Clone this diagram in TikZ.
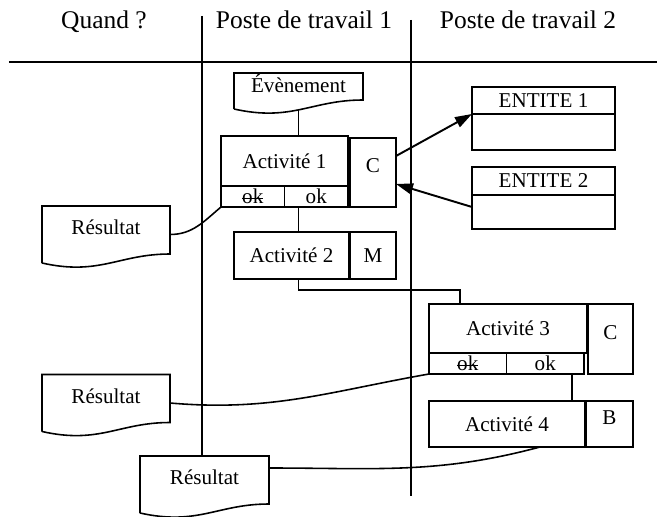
\documentclass[tikz,border=0pt]{standalone}
\usepackage{fontspec}
\setmainfont{Liberation Serif}
\usetikzlibrary{arrows.meta,positioning,calc}

\newlength{\barrelen}
\newcommand{\barre}[1]{\settowidth{\barrelen}{#1}\rlap{#1}\rule[0.55ex]{\barrelen}{0.5pt}}

\newcommand{\docoutline}[1]{%
  \draw[conn] (#1.south west) -- (#1.north west) -- (#1.north east)
    -- ([yshift=0.18cm]#1.south east)
    .. controls ($(#1.south west)!0.6!(#1.south east)+(0,0.18cm)$)
           and ($(#1.south west)!0.45!(#1.south east)+(0,-0.26cm)$) .. (#1.south west);}

\begin{document}
\begin{tikzpicture}[
  every node/.style={font=\fontsize{12}{14}\selectfont},
  header/.style={font=\fontsize{14.5}{17}\selectfont,anchor=base},
  conn/.style={line width=0.9pt},
  lane/.style={line width=0.8pt},
  arr/.style={line width=1.1pt,-{Triangle[length=0.34cm,width=0.22cm]}},
  box/.style={draw,line width=0.9pt,inner sep=0pt,outer sep=0pt},
  okbox/.style={box,minimum width=#1,minimum height=0.42cm},
  midbase/.style={inner ysep=0pt,text height=#1,text depth=#1},
  doc/.style={inner sep=0pt,outer sep=0pt,minimum width=2.56cm,
              text height=#1,text depth=#1},
  doc/.default=0.57cm
]
\useasboundingbox (0,0) rectangle (13.14,-10.34);

% en-tete des colonnes
\node[header] (quand)  at ( 2.08,-0.57) {Quand ?};
\node[header] (poste1) at ( 6.08,-0.57) {Poste de travail 1};
\node[header] (poste2) at (10.56,-0.57) {Poste de travail 2};
\draw[lane] (0.18,-1.24) -- (13.14,-1.24);

% poste de travail 1
\node[doc=0.36cm,text height=0.40cm,text depth=0.32cm,minimum width=2.58cm] (evt)
  at (5.97,-1.82) {Évènement};
\docoutline{evt}

\node[box,minimum width=2.54cm,minimum height=1.0cm] (act1) at (5.69,-3.22) {Activité 1};
\node[box,midbase=0.69cm,minimum width=0.92cm,anchor=north west] (c1)
  at ([xshift=0.04cm,yshift=-0.04cm]act1.north east) {C};
\node[okbox=1.27cm,anchor=north west] (ok11) at (act1.south west) {\barre{ok}};
\node[okbox=1.27cm,anchor=north west] (ok12) at (ok11.north east) {ok};

\node[box,minimum width=2.30cm,minimum height=0.94cm] (act2) at (5.83,-5.11) {Activité 2};
\node[box,minimum width=0.92cm,minimum height=0.94cm,anchor=north west] (m2)
  at ([xshift=0.02cm]act2.north east) {M};

% poste de travail 2
\node[box,minimum width=2.86cm,minimum height=0.54cm] (ent1) at (10.87,-2.01) {ENTITE 1};
\node[box,minimum width=2.86cm,minimum height=0.72cm,below=0pt of ent1] (ent1b) {};
\node[box,minimum width=2.86cm,minimum height=0.56cm] (ent2) at (10.87,-3.62) {ENTITE 2};
\node[box,minimum width=2.86cm,minimum height=0.68cm,below=0pt of ent2] (ent2b) {};

\node[box,minimum width=3.16cm,minimum height=0.98cm] (act3) at (10.16,-6.57) {Activité 3};
\node[box,midbase=0.70cm,minimum width=0.90cm,anchor=north west] (c3)
  at ([xshift=0.02cm]act3.north east) {C};
\node[okbox=1.55cm,anchor=north west] (ok31) at (act3.south west) {\barre{ok}};
\node[okbox=1.55cm,anchor=north west] (ok32) at (ok31.north east) {ok};

\node[box,minimum width=3.12cm,minimum height=0.92cm] (act4) at (10.14,-8.48) {Activité 4};
\node[box,midbase=0.46cm,minimum width=0.94cm,anchor=north west] (b4)
  at ([xshift=0.02cm]act4.north east) {B};

% resultats
\node[doc] (res1) at (2.12,-4.69) {Résultat};
\docoutline{res1}
\node[doc] (res2) at (2.12,-8.06) {Résultat};
\docoutline{res2}
\node[doc,minimum width=2.58cm] (res3) at (4.09,-9.69) {Résultat};
\docoutline{res3}

% couloirs
\coordinate (lane1) at (4.04,-0.32);
\coordinate (lane2) at (8.22,-0.40);
\draw[lane] (lane1) -- (lane1 |- res3.north);
\draw[lane] (lane2) -- ++(0,-9.52);

% enchainements
\draw[conn] (evt.south) -- (evt.south |- act1.north);
\draw[conn] (evt.south |- ok12.south) -- (evt.south |- act2.north);
\draw[conn] (evt.south |- act2.south) -- ++(0,-0.22) -| ([xshift=-0.96cm]act3.north);
\draw[conn] ([xshift=0.535cm]ok32.south) -- ([xshift=1.30cm]act4.north);

\draw[arr] ([yshift=0.33cm]c1.east) -- (ent1b.north west);
\draw[arr] ([yshift=0.1cm]ent2b.west) -- ([yshift=-0.23cm]c1.east);

\draw[conn] (res1.east) to[out=0,in=-140] (ok11.south west);
\draw[conn] (res2.east) to[out=-5,in=190] (ok31.south west);
\draw[conn] ([yshift=0.33cm]res3.east) to[out=0,in=195] ([xshift=0.66cm]act4.south);
\end{tikzpicture}
\end{document}
